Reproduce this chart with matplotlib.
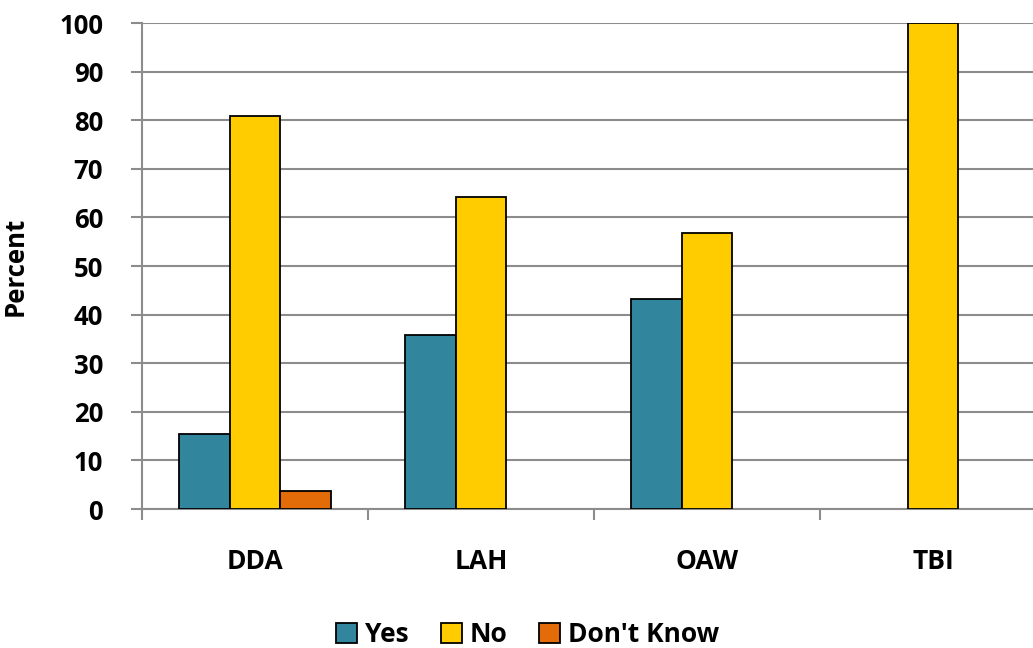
import matplotlib
matplotlib.use("Agg")
import matplotlib.pyplot as plt
from matplotlib.ticker import FixedLocator
import numpy as np

# data
categories = ["DDA", "LAH", "OAW", "TBI"]
yes_vals = [15.4, 35.9, 43.3, 0]
no_vals = [80.8, 64.1, 56.7, 100]
dk_vals = [3.8, 0, 0, 0]

series = [("Yes", yes_vals, "#31859C"),
          ("No", no_vals, "#FFCC00"),
          ("Don't Know", dk_vals, "#E36C09")]

plt.rcParams['font.family'] = ['Open Sans', 'DejaVu Sans']
plt.rcParams['font.weight'] = 'bold'

fig = plt.figure(figsize=(10.33, 6.48), dpi=100)
ax = fig.add_axes([0.1375, 0.2145, 0.875, 0.75])

x = np.arange(len(categories))
w = 0.2235
for i, (name, vals, col) in enumerate(series):
    vals = np.array(vals, dtype=float)
    mask = vals > 0
    ax.bar(x[mask] + (i - 1) * w, vals[mask], width=w, color=col,
           edgecolor="black", linewidth=1.3, label=name, zorder=3)

ax.set_xlim(-0.5, len(categories) - 0.5)
ax.set_ylim(0, 100)
ax.set_yticks(range(0, 101, 10))
ax.yaxis.grid(True, color="#8c8c8c", linewidth=1.5, zorder=0)
ax.set_axisbelow(True)

ax.set_xticks(x)
ax.set_xticklabels(categories, fontsize=19, fontweight="bold")
ax.tick_params(axis="x", which="major", length=0, pad=28)
ax.xaxis.set_minor_locator(FixedLocator(np.arange(-0.5, len(categories), 1)))
ax.tick_params(axis="x", which="minor", length=8, width=1.5, color="#8c8c8c")
ax.tick_params(axis="y", length=8, width=1.5, color="#8c8c8c", labelsize=18.5, pad=20)
for lbl in ax.get_yticklabels():
    lbl.set_fontweight("bold")

for s in ["top", "right"]:
    ax.spines[s].set_visible(False)
for s in ["left", "bottom"]:
    ax.spines[s].set_color("#8c8c8c")
    ax.spines[s].set_linewidth(1.5)

ax.set_ylabel("Percent", fontsize=18.5, fontweight="bold")
ax.yaxis.set_label_coords(-0.125, 0.5)

fig.legend(loc="center", bbox_to_anchor=(0.511, 0.021), ncol=3, frameon=False,
           handlelength=0.8, handleheight=0.8, handletextpad=0.3,
           columnspacing=1.2, prop={'weight': 'bold', 'size': 19})

fig.savefig("out.png", dpi=100)
